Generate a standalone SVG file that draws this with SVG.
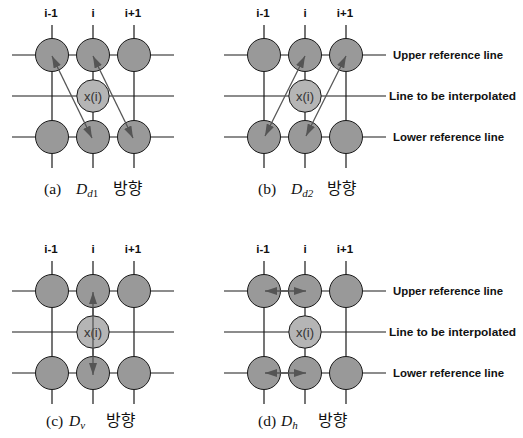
<svg xmlns="http://www.w3.org/2000/svg" width="523" height="438" viewBox="0 0 523 438">
<style>
.bg{fill:#fff}
.grid line{stroke:#1a1a1a;stroke-width:1.2}
.n{fill:#999;stroke:#1a1a1a;stroke-width:1}
.x{fill:#b5b5b5;stroke:#1a1a1a;stroke-width:1}
.xt{font-family:"Liberation Sans",Arial,sans-serif;font-size:13px;fill:#333;text-anchor:middle}
.cl{font-family:"Liberation Sans",Arial,sans-serif;font-size:11.5px;font-weight:bold;fill:#111;text-anchor:middle}
.rl{font-family:"Liberation Sans",Arial,sans-serif;font-size:11px;font-weight:bold;fill:#111}
.arr{stroke:#555;stroke-width:1.3;fill:none;marker-start:url(#ah);marker-end:url(#ah)}
.cap{font-family:"Liberation Serif","Noto Sans CJK KR",serif;font-size:15.5px;fill:#111}
.ko{font-family:"Noto Sans CJK KR",sans-serif;font-size:16px}
</style>
<defs>
<marker id="ah" viewBox="0 0 12 8" refX="12" refY="4" markerWidth="12" markerHeight="8" markerUnits="userSpaceOnUse" orient="auto-start-reverse">
<path d="M0,0 L12,4 L0,8 Z" fill="#555"/>
</marker>
<g id="panel">
<g class="grid">
<line x1="12" y1="55" x2="174" y2="55"/>
<line x1="12" y1="96" x2="174" y2="96"/>
<line x1="12" y1="137" x2="174" y2="137"/>
<line x1="52" y1="25" x2="52" y2="168"/>
<line x1="93" y1="25" x2="93" y2="168"/>
<line x1="134" y1="25" x2="134" y2="168"/>
</g>
<circle class="n" cx="52" cy="55" r="16.5"/>
<circle class="n" cx="93" cy="55" r="16.5"/>
<circle class="n" cx="134" cy="55" r="16.5"/>
<circle class="x" cx="93" cy="96" r="16.2"/>
<circle class="n" cx="52" cy="137" r="16.5"/>
<circle class="n" cx="93" cy="137" r="16.5"/>
<circle class="n" cx="134" cy="137" r="16.5"/>
<text class="xt" x="93" y="101">x(i)</text>
<text class="cl" x="51" y="17">i-1</text>
<text class="cl" x="93" y="17">i</text>
<text class="cl" x="133" y="17">i+1</text>
</g>
<g id="rlabels">
<text class="rl" x="393" y="59" textLength="110" lengthAdjust="spacingAndGlyphs">Upper reference line</text>
<text class="rl" x="389" y="100" textLength="127" lengthAdjust="spacingAndGlyphs">Line to be interpolated</text>
<text class="rl" x="393" y="141" textLength="111" lengthAdjust="spacingAndGlyphs">Lower reference line</text>
</g>
</defs>
<rect class="bg" x="0" y="0" width="523" height="438"/>

<g id="panel-a">
<use href="#panel"/>
<text class="cap" x="44" y="194">(a)<tspan x="76" font-style="italic">D</tspan><tspan font-style="italic" font-size="11" dy="3">d</tspan><tspan font-size="11">1</tspan><tspan class="ko" x="113" dy="-3">방향</tspan></text>
</g>
<g id="panel-b" transform="translate(212,0)">
<use href="#panel"/>
<text class="cap" x="46" y="194">(b)<tspan x="79" font-style="italic">D</tspan><tspan font-style="italic" font-size="11" dy="3">d2</tspan><tspan class="ko" x="115" dy="-3">방향</tspan></text>
</g>
<use href="#rlabels"/>
<g id="panel-c" transform="translate(0,236)">
<use href="#panel"/>
<text class="cap" x="46" y="190">(c)<tspan x="69" font-style="italic">D</tspan><tspan font-style="italic" font-size="11" dy="3">v</tspan><tspan class="ko" x="106" dy="-3">방향</tspan></text>
</g>
<g id="panel-d" transform="translate(212,236)">
<use href="#panel"/>
<text class="cap" x="46" y="190">(d)<tspan x="69" font-style="italic">D</tspan><tspan font-style="italic" font-size="11" dy="3">h</tspan><tspan class="ko" x="106" dy="-3">방향</tspan></text>
</g>
<use href="#rlabels" transform="translate(0,236)"/>

<g id="connectors">
<line class="arr" x1="52" y1="56" x2="92" y2="138"/>
<line class="arr" x1="93" y1="56" x2="133" y2="138"/>
<line class="arr" x1="305" y1="56" x2="265" y2="136"/>
<line class="arr" x1="346" y1="56" x2="306" y2="136"/>
<line class="arr" x1="93" y1="292" x2="93" y2="375"/>
<line class="arr" x1="265" y1="291" x2="306" y2="291"/>
<line class="arr" x1="265" y1="373" x2="306" y2="373"/>
</g>
</svg>
